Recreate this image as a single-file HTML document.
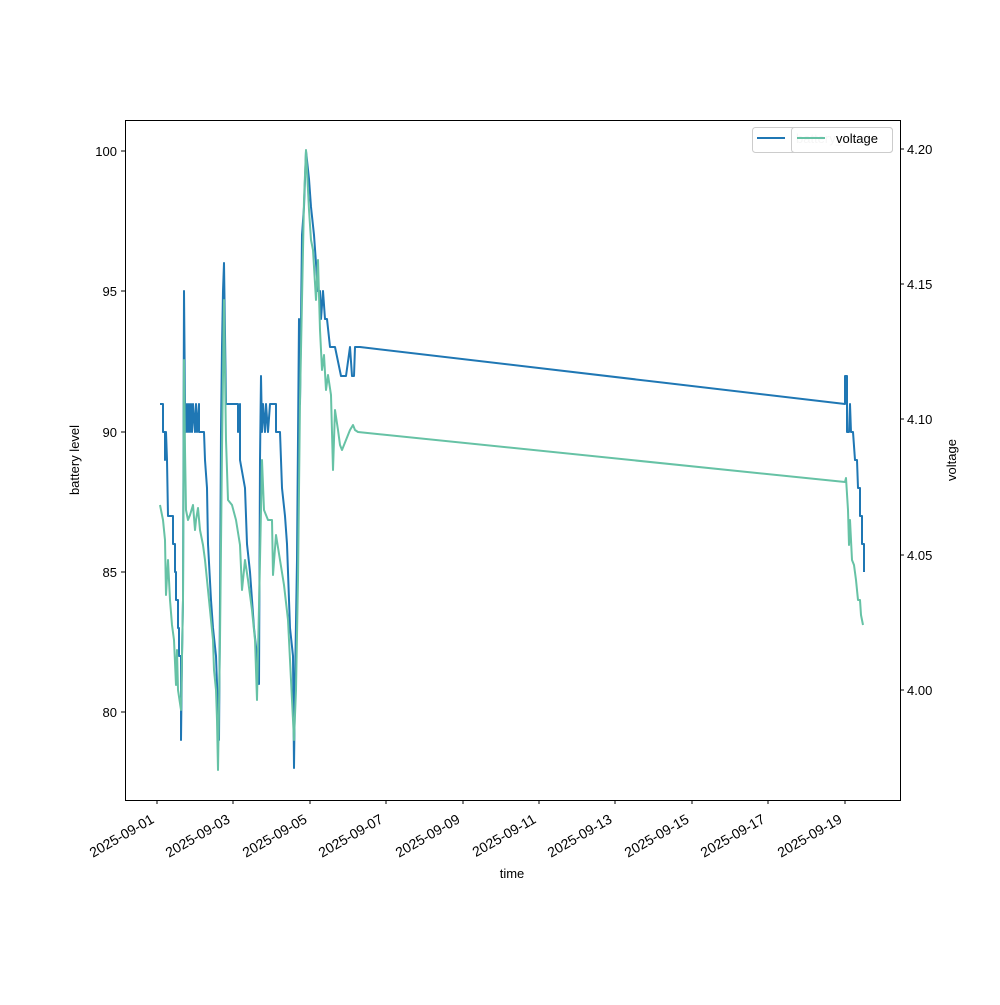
<!DOCTYPE html><html><head><style>body{margin:0;background:#fff}svg{font-family:"Liberation Sans","DejaVu Sans",sans-serif}</style></head><body>
<svg width="1000" height="1000" xmlns="http://www.w3.org/2000/svg">
<rect width="1000" height="1000" fill="#fff"/>
<g fill="none" stroke-linejoin="round">
<polyline stroke="#1f77b4" stroke-width="2" points="160,404 163,404 163,432 165,432 165,460 166,432 167,460 168,516 173,516 173,544 175,544 175,572 176,572 176,600 178,600 178,628 179,628 179,656 181,656 181,740 182,656 183,600 184,291 185,404 186,432 187,404 188,432 189,404 190,432 191,404 192,432 193,404 195,432 196,404 197,432 199,404 199,432 204,432 205,460 207,488 208,544 211,600 213,628 216,656 217,684 219,740 220,600 221,432 222,347 223,291 224,263 226,404 238,404 238,432 240,404 240,460 245,488 247,544 250,572 252,600 254,628 257,656 259,684 260,460 261,376 262,432 263,404 265,432 266,404 268,432 270,404 276,404 276,432 280,432 282,488 285,516 287,544 289,600 290,628 293,656 294,768 295,684 297,560 299,319 300,404 302,235 304,207 306,151 309,179 311,207 314,235 316,263 318,291 320,291 321,319 323,291 325,319 327,319 330,347 333,347 335,347 341,376 346,376 350,347 352,376 354,376 355,347 360,347 845,404 845,376 847,376 847,432 849,432 850,404 851,432 853,432 855,460 857,460 858,488 860,488 860,516 862,516 862,544 864,544 864,572"/>
<polyline stroke="#66c2a5" stroke-width="2" points="160,505 163,520 165,540 166,595 168,560 170,600 172,625 174,640 176,685 177,650 178,690 181,710 183,600 184,360 185,450 186,510 188,520 190,515 193,505 195,530 196,520 198,508 200,530 203,545 205,560 208,590 211,620 213,640 214,670 216,690 217,720 218,770 220,640 222,450 224,300 226,440 228,500 232,505 236,520 240,545 242,590 245,560 248,580 252,610 255,640 257,700 260,560 262,460 264,510 268,520 272,520 273,575 276,535 280,560 284,585 288,620 290,660 292,700 294,740 296,690 298,580 300,400 302,300 304,200 306,150 309,210 311,240 313,250 316,300 318,260 320,330 322,370 324,355 326,390 328,375 331,395 333,470 335,410 338,430 340,445 342,450 346,440 350,430 353,425 355,430 358,432 845,482 846,478 848,510 849,545 850,520 852,560 854,565 856,580 858,600 860,600 861,615 863,625"/>
</g>
<rect x="125.5" y="120.5" width="775" height="680" fill="none" stroke="#000" stroke-width="1"/>
<g font-size="13" fill="#000">
<g stroke="#000"><line x1="125" y1="151" x2="121" y2="151"/><line x1="125" y1="291" x2="121" y2="291"/><line x1="125" y1="432" x2="121" y2="432"/><line x1="125" y1="572" x2="121" y2="572"/><line x1="125" y1="712" x2="121" y2="712"/>
<line x1="900" y1="149" x2="904" y2="149"/><line x1="900" y1="284" x2="904" y2="284"/><line x1="900" y1="419" x2="904" y2="419"/><line x1="900" y1="555" x2="904" y2="555"/><line x1="900" y1="690" x2="904" y2="690"/></g>
<g text-anchor="end"><text x="117" y="156">100</text><text x="117" y="296">95</text><text x="117" y="437">90</text><text x="117" y="577">85</text><text x="117" y="717">80</text></g>
<text x="907" y="154">4.20</text><text x="907" y="289">4.15</text><text x="907" y="424">4.10</text><text x="907" y="560">4.05</text><text x="907" y="695">4.00</text>
<text transform="translate(79,460) rotate(-90)" text-anchor="middle">battery level</text>
<text transform="translate(956,460) rotate(-90)" text-anchor="middle">voltage</text>
<text x="512" y="878" text-anchor="middle">time</text>
<g stroke="#000">
<line x1="157" y1="800" x2="157" y2="804"/><line x1="233" y1="800" x2="233" y2="804"/><line x1="310" y1="800" x2="310" y2="804"/><line x1="386" y1="800" x2="386" y2="804"/><line x1="463" y1="800" x2="463" y2="804"/><line x1="539" y1="800" x2="539" y2="804"/><line x1="615" y1="800" x2="615" y2="804"/><line x1="692" y1="800" x2="692" y2="804"/><line x1="768" y1="800" x2="768" y2="804"/><line x1="845" y1="800" x2="845" y2="804"/></g>
<g text-anchor="end" font-size="14">
<text transform="translate(155,822) rotate(-30)">2025-09-01</text>
<text transform="translate(231,822) rotate(-30)">2025-09-03</text>
<text transform="translate(308,822) rotate(-30)">2025-09-05</text>
<text transform="translate(384,822) rotate(-30)">2025-09-07</text>
<text transform="translate(461,822) rotate(-30)">2025-09-09</text>
<text transform="translate(537,822) rotate(-30)">2025-09-11</text>
<text transform="translate(613,822) rotate(-30)">2025-09-13</text>
<text transform="translate(690,822) rotate(-30)">2025-09-15</text>
<text transform="translate(766,822) rotate(-30)">2025-09-17</text>
<text transform="translate(843,822) rotate(-30)">2025-09-19</text></g>
</g>
<rect x="752.5" y="127.5" width="140" height="25" rx="3" fill="#fff" stroke="#ccc"/>
<line x1="757" y1="138" x2="785" y2="138" stroke="#1f77b4" stroke-width="2"/>
<text x="796" y="143" font-size="13" fill="#ccc">battery_level</text>
<rect x="791.5" y="127.5" width="101" height="25" rx="3" fill="#fff" fill-opacity="0.8" stroke="#ccc"/>
<line x1="797" y1="138" x2="825" y2="138" stroke="#66c2a5" stroke-width="2"/>
<text x="836" y="143" font-size="13" fill="#000">voltage</text>
</svg></body></html>
